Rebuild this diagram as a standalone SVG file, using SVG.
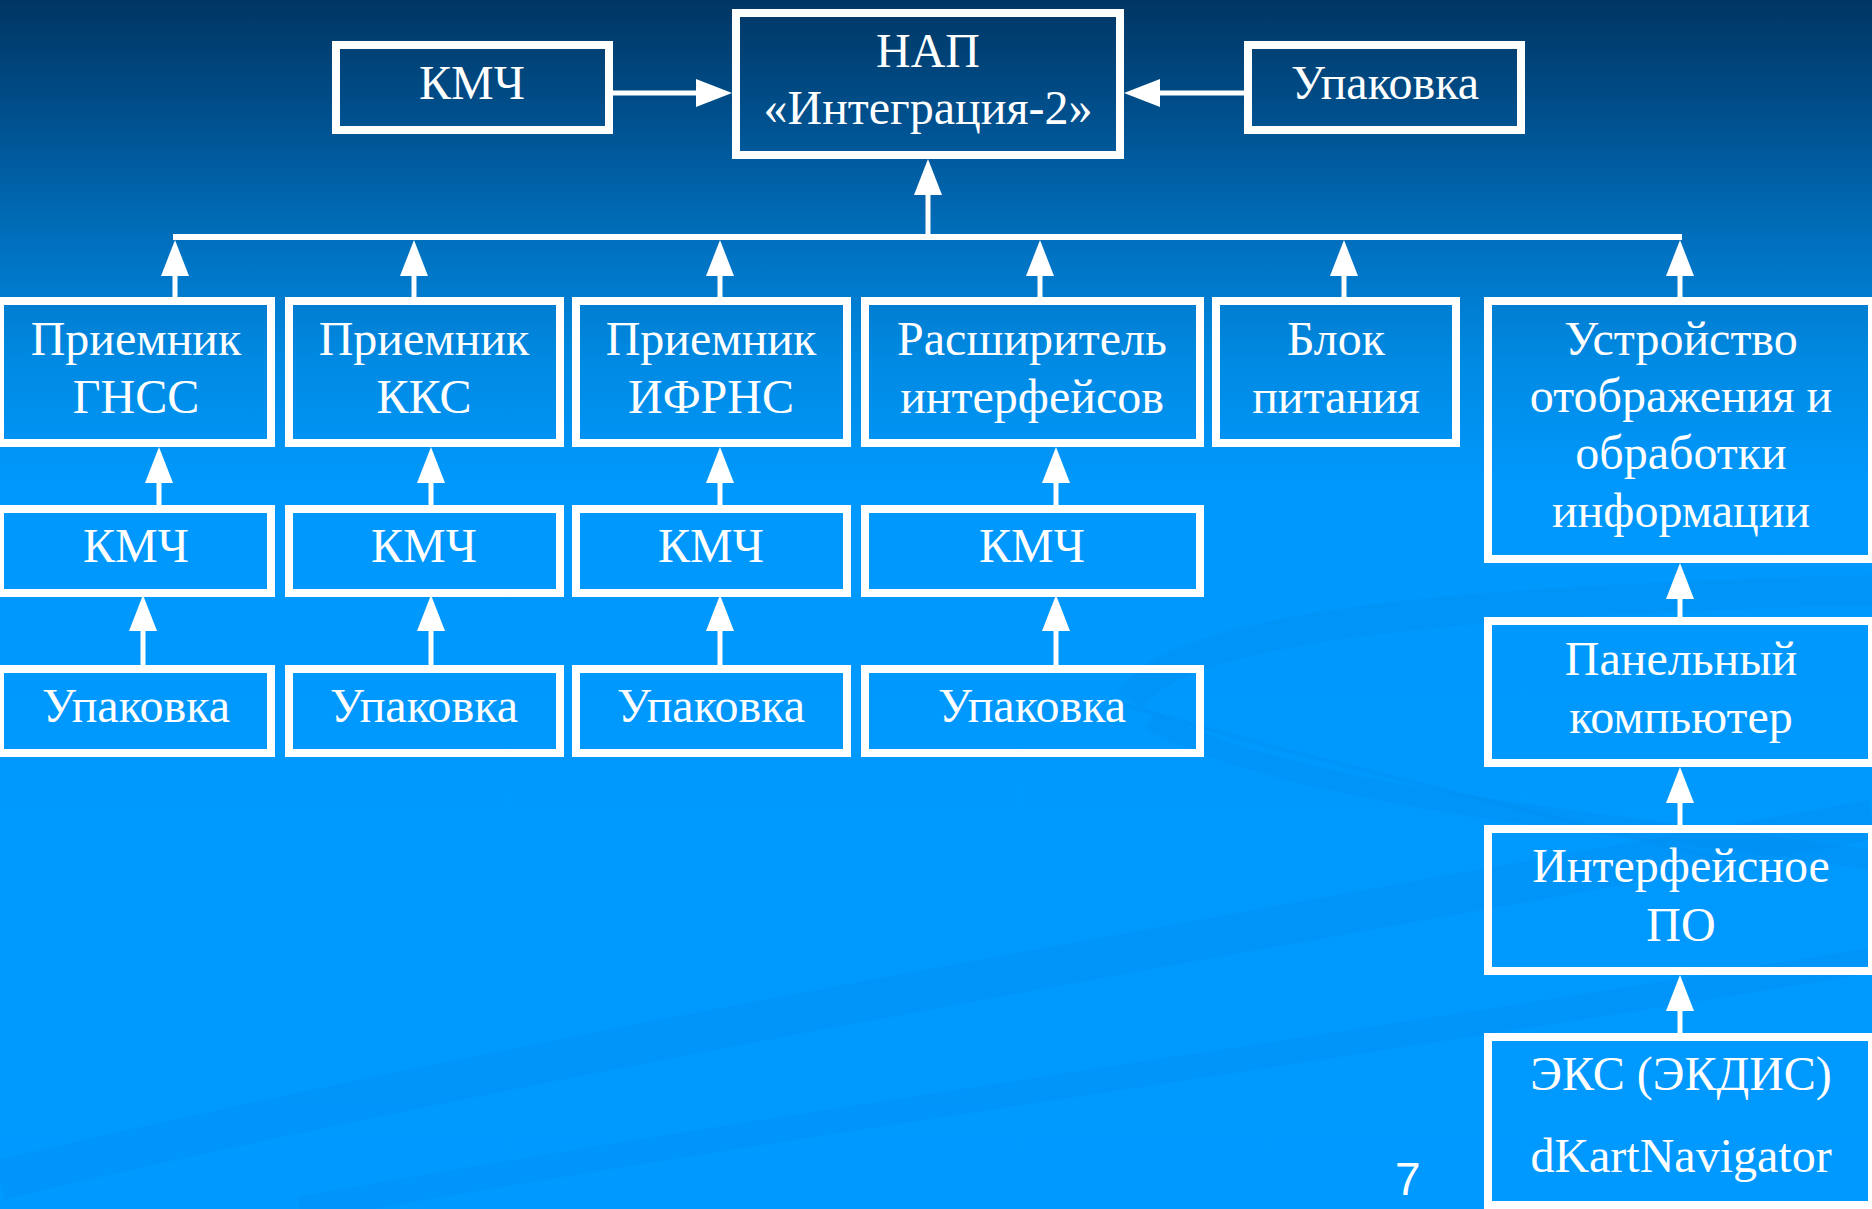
<svg xmlns="http://www.w3.org/2000/svg" width="1872" height="1209" viewBox="0 0 1872 1209">
  <defs>
    <linearGradient id="bg" x1="0" y1="0" x2="0" y2="1209" gradientUnits="userSpaceOnUse">
      <stop offset="0" stop-color="#003663"/>
      <stop offset="0.1" stop-color="#00518f"/>
      <stop offset="0.2" stop-color="#0070be"/>
      <stop offset="0.3" stop-color="#008ae3"/>
      <stop offset="0.4" stop-color="#0098fc"/>
      <stop offset="1" stop-color="#0099ff"/>
    </linearGradient>
    <marker id="ah" markerUnits="userSpaceOnUse" markerWidth="36" markerHeight="28" refX="0" refY="14" orient="auto" viewBox="0 0 36 28">
      <path d="M0,0 L36,14 L0,28 Z" fill="#ffffff"/>
    </marker>
    <style>
      .box { fill: none; stroke: #ffffff; stroke-width: 8; }
      .lbl { font-family: "Liberation Serif", "Times New Roman", serif; font-size: 48px; fill: #ffffff; text-anchor: middle; }
      .conn { stroke: #ffffff; stroke-width: 6; fill: none; }
      .arr { stroke: #ffffff; stroke-width: 5; fill: none; marker-end: url(#ah); }
      .swirl { fill: none; stroke: #0088e6; stroke-opacity: 0.2; }
    </style>
  </defs>

  <rect x="0" y="0" width="1872" height="1209" fill="url(#bg)"/>

  <g id="background-swirls">
    <path class="swirl" stroke-width="30" d="M1130,700 C1180,620 1500,600 1872,590"/>
    <path class="swirl" stroke-width="20" d="M1150,720 C1300,800 1600,820 1872,860"/>
    <path class="swirl" stroke-width="40" d="M0,1180 C500,1060 1200,940 1872,820"/>
    <path class="swirl" stroke-width="25" d="M300,1209 C800,1120 1400,1040 1872,960"/>
    <path class="swirl" stroke-width="4" d="M1110,700 C1300,760 1500,800 1720,860"/>
  </g>

  <g id="connectors">
    <line class="arr" x1="613" y1="93" x2="696" y2="93"/>
    <line class="arr" x1="1244" y1="93" x2="1160" y2="93"/>
    <line class="arr" x1="928" y1="237" x2="928" y2="195"/>
    <line class="conn" x1="173" y1="237" x2="1682" y2="237"/>
    <line class="arr" x1="175" y1="297" x2="175" y2="276"/>
    <line class="arr" x1="414" y1="297" x2="414" y2="276"/>
    <line class="arr" x1="720" y1="297" x2="720" y2="276"/>
    <line class="arr" x1="1040" y1="297" x2="1040" y2="276"/>
    <line class="arr" x1="1344" y1="297" x2="1344" y2="276"/>
    <line class="arr" x1="1680" y1="297" x2="1680" y2="276"/>
    <line class="arr" x1="159" y1="505" x2="159" y2="483"/>
    <line class="arr" x1="431" y1="505" x2="431" y2="483"/>
    <line class="arr" x1="720" y1="505" x2="720" y2="483"/>
    <line class="arr" x1="1056" y1="505" x2="1056" y2="483"/>
    <line class="arr" x1="143" y1="665" x2="143" y2="631"/>
    <line class="arr" x1="431" y1="665" x2="431" y2="631"/>
    <line class="arr" x1="720" y1="665" x2="720" y2="631"/>
    <line class="arr" x1="1056" y1="665" x2="1056" y2="631"/>
    <line class="arr" x1="1680" y1="617" x2="1680" y2="599"/>
    <line class="arr" x1="1680" y1="825" x2="1680" y2="803"/>
    <line class="arr" x1="1680" y1="1033" x2="1680" y2="1011"/>
  </g>

  <g id="node-kmch-top">
    <rect class="box" x="336" y="45" width="273" height="85"/>
    <text class="lbl" x="472" y="99">КМЧ</text>
  </g>
  <g id="node-nap">
    <rect class="box" x="736" y="13" width="384" height="142"/>
    <text class="lbl" x="928" y="67">НАП</text>
    <text class="lbl" x="928" y="124">«Интеграция-2»</text>
  </g>
  <g id="node-upak-top">
    <rect class="box" x="1248" y="45" width="273" height="85"/>
    <text class="lbl" x="1385" y="99">Упаковка</text>
  </g>

  <g id="node-gnss">
    <rect class="box" x="0" y="301" width="271" height="142"/>
    <text class="lbl" x="136" y="355">Приемник</text>
    <text class="lbl" x="136" y="413">ГНСС</text>
  </g>
  <g id="node-kks">
    <rect class="box" x="289" y="301" width="271" height="142"/>
    <text class="lbl" x="424" y="355">Приемник</text>
    <text class="lbl" x="424" y="413">ККС</text>
  </g>
  <g id="node-ifrns">
    <rect class="box" x="576" y="301" width="271" height="142"/>
    <text class="lbl" x="711" y="355">Приемник</text>
    <text class="lbl" x="711" y="413">ИФРНС</text>
  </g>
  <g id="node-expander">
    <rect class="box" x="865" y="301" width="335" height="142"/>
    <text class="lbl" x="1032" y="355">Расширитель</text>
    <text class="lbl" x="1032" y="413">интерфейсов</text>
  </g>
  <g id="node-power">
    <rect class="box" x="1216" y="301" width="240" height="142"/>
    <text class="lbl" x="1336" y="355">Блок</text>
    <text class="lbl" x="1336" y="413">питания</text>
  </g>
  <g id="node-display">
    <rect class="box" x="1488" y="301" width="384" height="258"/>
    <text class="lbl" x="1681" y="355">Устройство</text>
    <text class="lbl" x="1681" y="412">отображения и</text>
    <text class="lbl" x="1681" y="469">обработки</text>
    <text class="lbl" x="1681" y="527">информации</text>
  </g>

  <g id="node-kmch-1">
    <rect class="box" x="0" y="509" width="271" height="84"/>
    <text class="lbl" x="136" y="562">КМЧ</text>
  </g>
  <g id="node-kmch-2">
    <rect class="box" x="289" y="509" width="271" height="84"/>
    <text class="lbl" x="424" y="562">КМЧ</text>
  </g>
  <g id="node-kmch-3">
    <rect class="box" x="576" y="509" width="271" height="84"/>
    <text class="lbl" x="711" y="562">КМЧ</text>
  </g>
  <g id="node-kmch-4">
    <rect class="box" x="865" y="509" width="335" height="84"/>
    <text class="lbl" x="1032" y="562">КМЧ</text>
  </g>

  <g id="node-upak-1">
    <rect class="box" x="0" y="669" width="271" height="84"/>
    <text class="lbl" x="136" y="722">Упаковка</text>
  </g>
  <g id="node-upak-2">
    <rect class="box" x="289" y="669" width="271" height="84"/>
    <text class="lbl" x="424" y="722">Упаковка</text>
  </g>
  <g id="node-upak-3">
    <rect class="box" x="576" y="669" width="271" height="84"/>
    <text class="lbl" x="711" y="722">Упаковка</text>
  </g>
  <g id="node-upak-4">
    <rect class="box" x="865" y="669" width="335" height="84"/>
    <text class="lbl" x="1032" y="722">Упаковка</text>
  </g>

  <g id="node-panel-pc">
    <rect class="box" x="1488" y="621" width="384" height="142"/>
    <text class="lbl" x="1681" y="675">Панельный</text>
    <text class="lbl" x="1681" y="733">компьютер</text>
  </g>
  <g id="node-iface-sw">
    <rect class="box" x="1488" y="829" width="384" height="142"/>
    <text class="lbl" x="1681" y="882">Интерфейсное</text>
    <text class="lbl" x="1681" y="941">ПО</text>
  </g>
  <g id="node-eks">
    <rect class="box" x="1488" y="1037" width="384" height="168"/>
    <text class="lbl" x="1681" y="1090">ЭКС (ЭКДИС)</text>
    <text class="lbl" x="1681" y="1172">dKartNavigator</text>
  </g>

  <text x="1395" y="1195" font-family="'Liberation Sans', Arial, sans-serif" font-size="46" fill="#ffffff">7</text>
</svg>
